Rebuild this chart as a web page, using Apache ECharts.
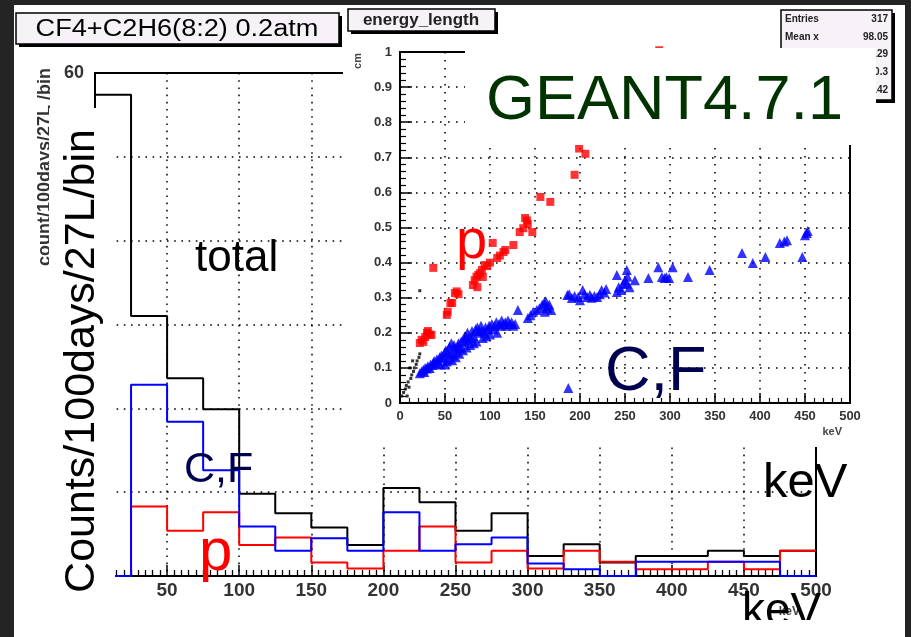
<!DOCTYPE html>
<html><head><meta charset="utf-8">
<script src="https://cdn.jsdelivr.net/npm/echarts@6/dist/echarts.min.js"></script>
<style>
html,body{margin:0;padding:0;background:#242424;width:911px;height:637px;overflow:hidden}
#sheet{position:absolute;left:14px;top:5px;width:891px;height:632px;background:#fff}
#c{position:absolute;left:0;top:0;width:911px;height:637px}
</style></head><body>
<div id="sheet"></div><div id="c"></div>
<script>
// ---------- main histogram (25 keV bins) ----------
const binStarts = [0,25,50,75,100,125,150,175,200,225,250,275,300,325,350,375,400,425,450,475];
const histEnd = 500;
const totalCounts = [57.4,31.0,23.6,19.9,9.8,7.5,5.8,3.7,10.5,8.8,5.4,7.5,2.4,3.8,1.6,2.4,2.4,3.0,2.4,3.0];
const pCounts     = [0,8.3,5.4,7.6,3.7,4.6,1.6,0.9,3.0,5.9,1.6,3.0,0.9,3.0,1.7,0.8,0.8,1.7,0.8,3.0];
const cfCounts    = [0,22.8,18.4,12.6,5.9,3.0,4.5,3.0,7.6,3.0,3.8,4.6,1.5,0.8,0,1.7,1.7,1.7,1.7,0];
const mainXLabels = ['50','100','150','200','250','300','350','400','450','500'];
const mainYLabels = ['0','10','20','30','40','50','60'];

// ---------- inset scatter: energy (keV) vs length (cm) ----------
const insetXLabels = ['0','50','100','150','200','250','300','350','400','450','500'];
const insetYLabels = ['0','0.1','0.2','0.3','0.4','0.5','0.6','0.7','0.8','0.9','1'];
const pPoints = [[22,0.171],[24,0.18],[26,0.174],[28,0.188],[30,0.2],[31,0.205],[33,0.195],[35,0.194],[37,0.385],
 [52,0.251],[53,0.26],[56,0.285],[58,0.285],[61,0.313],[63,0.318],[65,0.31],[81,0.336],[83,0.35],[85,0.36],[86,0.33],
 [87,0.365],[89,0.37],[91,0.379],[92,0.359],[94,0.393],[97,0.39],[100,0.4],[103,0.456],[108,0.413],[111,0.42],[115,0.43],
 [117,0.436],[126,0.45],[133,0.487],[137,0.498],[139,0.527],[141,0.52],[142,0.51],[147,0.487],[156,0.587],[167,0.573],
 [194,0.65],[199,0.725],[206,0.71],[288,1.005]];
const cfPoints = [[22,0.085],[24,0.09],[26,0.095],[27,0.088],[28,0.1],[30,0.098],[31,0.105],[33,0.1],[34,0.11],[36,0.108],
 [37,0.115],[38,0.12],[40,0.112],[41,0.125],[42,0.118],[44,0.13],[45,0.11],[46,0.135],[48,0.128],[49,0.14],[50,0.11],
 [51,0.15],[52,0.118],[53,0.145],[54,0.125],[55,0.16],[56,0.14],[57,0.17],[58,0.122],[59,0.135],[60,0.165],[61,0.155],
 [62,0.13],[63,0.145],[64,0.16],[65,0.17],[66,0.14],[67,0.155],[68,0.175],[70,0.15],[71,0.185],[72,0.175],[73,0.19],
 [74,0.158],[75,0.2],[76,0.18],[78,0.165],[79,0.185],[80,0.205],[81,0.19],[82,0.17],[84,0.21],[85,0.175],[86,0.215],
 [87,0.2],[88,0.205],[90,0.22],[91,0.205],[92,0.185],[94,0.2],[95,0.215],[96,0.19],[98,0.21],[99,0.22],[100,0.195],
 [102,0.225],[104,0.21],[105,0.22],[107,0.23],[108,0.2],[110,0.225],[112,0.22],[113,0.235],[115,0.225],[117,0.23],
 [118,0.22],[120,0.235],[122,0.225],[124,0.23],[126,0.22],[128,0.225],
 [131,0.265],[142,0.242],[145,0.25],[148,0.26],[152,0.265],[155,0.27],[158,0.28],[160,0.285],[161,0.26],[162,0.29],
 [163,0.275],[164,0.27],[166,0.28],[168,0.265],[187,0.043],
 [186,0.308],[188,0.31],[191,0.299],[194,0.305],[198,0.302],[200,0.293],[203,0.322],[205,0.31],[208,0.302],[211,0.308],
 [213,0.3],[216,0.305],[219,0.302],[222,0.31],[224,0.322],[227,0.315],[229,0.325],
 [241,0.316],[241,0.365],[243,0.33],[246,0.322],[248,0.34],[250,0.35],[252,0.379],[252,0.34],[253,0.36],[255,0.33],[261,0.35],
 [276,0.356],[287,0.387],[291,0.359],[294,0.356],[296,0.358],[299,0.356],[303,0.387],[320,0.359],[344,0.379],
 [380,0.427],[392,0.399],[406,0.416],[422,0.456],[427,0.46],[430,0.464],[447,0.416],[450,0.478],[452,0.484],[453,0.49]];
const lowPoints = [[2,0.02],[4,0.03],[6,0.04],[7,0.05],[8,0.02],[9,0.06],[10,0.045],[11,0.1],[12,0.07],[13,0.08],
 [14,0.12],[15,0.09],[16,0.1],[18,0.11],[19,0.12],[21,0.13],[22,0.14],[22,0.32]];

const FONT = '"Liberation Sans", Arial, Helvetica, sans-serif';

function stepData(vals){
  const d = binStarts.map((x,i)=>[x, vals[i]]);
  d.push([histEnd, vals[vals.length-1]]);
  return d;
}
const dotted1 = {color:'#000', width:1.5, type:[1.6,5.6]};
const dotted2 = {color:'#000', width:1.5, type:[1.6,6.4]};
const axLbl = (size, extra)=>Object.assign({color:'#333', fontWeight:'bold', fontSize:size, fontFamily:FONT}, extra||{});

function txt(t, x, y, font, fill, opt){
  return Object.assign({type:'text', x:x, y:y, z:9, style:{text:t, font:font, fill:fill,
    align:(opt&&opt.align)||'left', verticalAlign:'middle'}}, (opt&&opt.el)||{});
}
// place text by its baseline: middle of em box ~0.35em above baseline
function btxt(t, x, baseline, size, fill, opt){
  return txt(t, x, baseline - 0.35*size, size+'px '+FONT, fill, opt);
}
function box(x,y,w,h,fill,z){
  return [
    {type:'rect', z:z, shape:{x:x+3,y:y+3,width:w,height:h}, style:{fill:'#000'}},
    {type:'rect', z:z, shape:{x:x,y:y,width:w,height:h}, style:{fill:fill, stroke:'#000', lineWidth:1.5}}
  ];
}

const chart = echarts.init(document.getElementById('c'), null, {renderer:'canvas'});
const graphics = [].concat(
  [{type:'rect', z:5, shape:{x:343,y:5,width:562,height:442}, style:{fill:'#fff'}}],
  box(16,13,323,31,'#f7f2f7',8),
  [txt('CF4+C2H6(8:2) 0.2atm', 177, 30, '23px '+FONT, '#000', {align:'center', el:{scaleX:1.18, originX:0, originY:0}})],
  box(348,9,147,22,'#f7f2f7',8),
  [txt('energy_length', 421, 20, 'bold 17px '+FONT, '#222', {align:'center'})],
  box(781,10,111,90,'#f7f2f7',8),
  [txt('Entries', 785, 19, 'bold 10px '+FONT, '#222'), txt('317', 888, 19, 'bold 10px '+FONT, '#222', {align:'right'}),
   txt('Mean x', 785, 37, 'bold 10px '+FONT, '#222'), txt('98.05', 888, 37, 'bold 10px '+FONT, '#222', {align:'right'}),
   txt('Mean y', 785, 54, 'bold 10px '+FONT, '#222'), txt('0.1129', 888, 54, 'bold 10px '+FONT, '#222', {align:'right'}),
   txt('RMS x', 785, 72, 'bold 10px '+FONT, '#222'), txt('90.3', 888, 72, 'bold 10px '+FONT, '#222', {align:'right'}),
   txt('RMS y', 785, 90, 'bold 10px '+FONT, '#222'), txt('0.1142', 888, 90, 'bold 10px '+FONT, '#222', {align:'right'})],
  [{type:'rect', z:10, shape:{x:465,y:48,width:411,height:97}, style:{fill:'#fff'}}],
  [btxt('GEANT4.7.1', 486, 124, 63, '#003300', {el:{z:11}})],
  // original small y title (mostly hidden)
  [txt('count/100days/27L /bin', 45, 167, 'bold 18px '+FONT, '#333', {align:'center', el:{rotation:Math.PI/2, z:8}})],
  [{type:'rect', z:9, shape:{x:49,y:108,width:66,height:529}, style:{fill:'#fff'}}],
  [txt('Counts/100days/27L/bin', 82, 361, '43px '+FONT, '#000', {align:'center', el:{rotation:Math.PI/2, z:10}})],
  [btxt('total', 195, 274, 44, '#000'),
   btxt('C,F', 184, 485, 43, '#000050'),
   btxt('p', 199, 574, 60, '#ff0000'),
   btxt('p', 456, 262, 56, '#ff0000'),
   btxt('C,F', 605, 395, 63, '#000050'),
   btxt('keV', 763, 501, 49, '#000'),
   btxt('keV', 742, 628, 46, '#000')],
  [{type:'rect', z:10, shape:{x:730,y:620,width:110,height:17}, style:{fill:'#fff'}}],
  [txt('keV', 800, 612, 'bold 12px '+FONT, '#444', {align:'right', el:{z:2}}),
   txt('keV', 842, 432, 'bold 11px '+FONT, '#444', {align:'right', el:{z:7}}),
   txt('cm', 358, 61, 'bold 11px '+FONT, '#444', {align:'center', el:{rotation:Math.PI/2, z:7}})]
);

chart.setOption({
  animation:false,
  backgroundColor:'transparent',
  textStyle:{fontFamily:FONT},
  grid:[
    {left:95, top:73, width:721, height:503, show:true, borderColor:'#000', borderWidth:2, backgroundColor:'transparent', z:1},
    {left:400, top:52, width:450, height:351, show:true, borderColor:'#000', borderWidth:2, backgroundColor:'transparent', z:6}
  ],
  xAxis:[
    {gridIndex:0, type:'value', min:0, max:histEnd, interval:50, z:1,
     axisLine:{show:true, onZero:false, lineStyle:{color:'#000', width:2}},
     axisTick:{show:true, inside:true, length:11, lineStyle:{color:'#000', width:1.5}},
     minorTick:{show:true, splitNumber:10, length:6, lineStyle:{color:'#000', width:1.3}},
     axisLabel:axLbl(19, {margin:5, formatter:v=>mainXLabels.includes(String(v))?String(v):''}),
     splitLine:{show:true, lineStyle:dotted1}},
    {gridIndex:1, type:'value', min:0, max:500, interval:50, z:6,
     axisLine:{show:true, onZero:false, lineStyle:{color:'#000', width:2}},
     axisTick:{show:true, inside:true, length:10, lineStyle:{color:'#000', width:1.5}},
     minorTick:{show:true, splitNumber:5, length:5, lineStyle:{color:'#000', width:1.2}},
     axisLabel:axLbl(13, {margin:7, formatter:v=>insetXLabels.includes(String(v))?String(v):''}),
     splitLine:{show:true, lineStyle:dotted2}}
  ],
  yAxis:[
    {gridIndex:0, type:'value', min:0, max:60, interval:10, z:1,
     axisLine:{show:true, onZero:false, lineStyle:{color:'#000', width:2}},
     axisTick:{show:true, inside:true, length:20, lineStyle:{color:'#000', width:1.5}},
     axisLabel:axLbl(18, {margin:11, formatter:v=>mainYLabels.includes(String(v))?String(v):''}),
     splitLine:{show:true, lineStyle:dotted1}},
    {gridIndex:1, type:'value', min:0, max:1, interval:0.1, z:6,
     axisLine:{show:true, onZero:false, lineStyle:{color:'#000', width:2}},
     axisTick:{show:true, inside:true, length:12, lineStyle:{color:'#000', width:1.5}},
     minorTick:{show:true, splitNumber:5, length:6, lineStyle:{color:'#000', width:1.2}},
     axisLabel:axLbl(13, {margin:8, formatter:v=>{const s=String(+v.toFixed(2)); return insetYLabels.includes(s)?s:'';}}),
     splitLine:{show:true, lineStyle:dotted2}}
  ],
  series:[
    {name:'total', type:'line', xAxisIndex:0, yAxisIndex:0, step:'end', symbol:'none', z:2,
     lineStyle:{color:'#000', width:2}, data:stepData(totalCounts)},
    {name:'p', type:'line', xAxisIndex:0, yAxisIndex:0, step:'end', symbol:'none', z:3,
     lineStyle:{color:'#ff0000', width:2}, data:stepData(pCounts)},
    {name:'C,F', type:'line', xAxisIndex:0, yAxisIndex:0, step:'end', symbol:'none', z:4,
     lineStyle:{color:'#0000ff', width:2}, data:stepData(cfCounts)},
    {name:'low', type:'scatter', xAxisIndex:1, yAxisIndex:1, symbol:'rect', symbolSize:3, z:7,
     itemStyle:{color:'#000'}, data:lowPoints},
    {name:'p scatter', type:'scatter', xAxisIndex:1, yAxisIndex:1, symbol:'rect', symbolSize:8, z:7, clip:false,
     itemStyle:{color:'#ff0000'}, data:pPoints},
    {name:'CF scatter', type:'scatter', xAxisIndex:1, yAxisIndex:1, symbol:'triangle', symbolSize:10, z:7,
     itemStyle:{color:'#0000ff'}, data:cfPoints}
  ],
  graphic:{elements:graphics}
});
</script>
</body></html>
